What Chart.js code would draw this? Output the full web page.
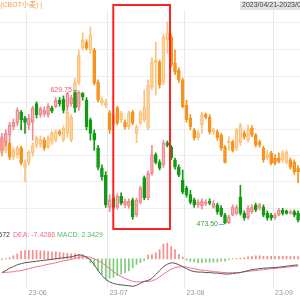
<!DOCTYPE html>
<html>
<head>
<meta charset="utf-8">
<script src="https://cdn.jsdelivr.net/npm/chart.js@4"></script>
<style>
  html, body { margin: 0; padding: 0; background: #fff; overflow: hidden; }
  #kline { position: absolute; left: 0; top: 0; width: 300px; height: 230px; }
  #macdBox { position: absolute; left: 0; top: 230px; width: 300px; height: 70px; }
</style>
</head>
<body>
<div id="kline"><canvas id="c1"></canvas></div>
<div id="macdBox"><canvas id="c2"></canvas></div>
<script>
// trading days, 2023
const dates = [
  "05-22","05-23","05-24","05-25","05-26","05-30","05-31",
  "06-01","06-02","06-05","06-06","06-07","06-08","06-09","06-12","06-13","06-14","06-15","06-16",
  "06-20","06-21","06-22","06-23","06-26","06-27","06-28","06-29","06-30",
  "07-03","07-05","07-06","07-07","07-10","07-11","07-12","07-13","07-14","07-17","07-18","07-19",
  "07-20","07-21","07-24","07-25","07-26","07-27","07-28","07-31",
  "08-01","08-02","08-03","08-04","08-07","08-08","08-09","08-10","08-11","08-14","08-15","08-16",
  "08-17","08-18","08-21","08-22","08-23","08-24","08-25","08-28","08-29","08-30","08-31",
  "09-01","09-05","09-06","09-07","09-08","09-11","09-12"
];
const tickDates = ["06-01", "07-03", "08-01", "09-01"];
const tickLabels = ["23-06", "23-07", "23-08", "23-09"];

// CBOT小麦 (red / green candles)
const mainOpen = [560,569,578,588,592,605,598,590,593,615,602,603,602,610,611,619,620,611,615,628,
  611,627,619,596,580,563,539,531,493,504,493,506,496,495,502,484,499,528,504,533,
  555,546,543,569,564,549,540,525,516,508,502,496,495,497,500,493,496,492,484,475,
  484,486,505,486,481,488,496,492,493,486,484,481,484,490,489,486,488,486];
const mainHigh = [580,584,593,597,610,607,600,602,612,617,611,611,615,612,622,622,624,628.5,625,629,
  629.75,628,622,598,584,566,543,535,508,508,509,510,503,503,504,504,518,530,536,566,
  557,549,572,571,566,551,543,537,518,513,504,502,503,502,503,501,498,495,486,484,
  496,496,519,489,495,496,498,498,496,489,486,486,492,492,490,490,490,489];
const mainLow = [555,565,572,584,589,584,580,584,572,598,599,600,599,604,610,612,604,607,612,605,
  607,619,584,572,560,537,525,493,488,491,491,496,493,492,479,482,497,502,502,531,
  544,537,540,564,549,538,529,509,505,497,493,493,491,495,496,492,485,482,473.5,474,
  483,484,484,478,479,486,488,490,482,478,478,479,483,484,485,485,482,476];
const mainClose = [576,580,590,593,607,596,593,598,610,602,609,607,612,606,619,615,607,627,622,610,
  628.5,623,588,580,572,540,529,496,502,493,506,498,500,500,482,502,516,504,533,555,
  546,539,569,566,551,540.5,531,511,508,499,496,499,500,499,498,498,488,484,475,482,
  493,493,486,481,492,493,490,496,484,481,481,484,490,486,486,488,484,478];

// compared contract (orange candles)
const cmpOpen = [557,560,569,552,555,563,540,546,557,566,567,572,564,570,572,582,572,580,572,610,
  640,680,687,678,678,640,616,613,604,590,610,596,593,588,605,580,592,596,586,634,
  663,664,640,690,693,663,654,643,613,598,584,575,590,602,599,582,582,578,564,569,
  570,563,569,580,572,586,578,570,563,551,557,551,551,549,546,549,546,539];
const cmpHigh = [576,572,572,564,565,565,549,560,569,577,577,575,577,583,584,584,589,610,602,645,
  678,698,690,705,680,643,623,620,607,605,612,606,596,606,607,590,607,631,643,669,
  687,666,696,711,696,678,657,645,619,602,586,583,605,604,602,586,584,580,566,576,
  572,586,592,583,590,589,580,572,565,560,559,555,557,560,560,551,549,542];
const cmpLow = [553,557,549,549,551,543,523,543,553,563,564,560,562,567,570,577,570,575,570,605,
  637,678,678,674,637,617,613,610,580,586,590,593,585,585,590,569,590,593,584,631,
  625,633,637,674,658,649,640,610,593,584,572,572,580,597,579,579,572,560,545,560,
  558,560,566,573,570,576,564,564,546,549,543,543,545,546,544,538,532,522];
const cmpClose = [572,569,552,560,563,545,545,558,566,575,573,563,575,580,582,579,586,605,599,640,
  672,690,680,696,639,619,619,617,584,602,592,604,588,604,592,588,604,611,637,664,
  666,637,693,698,660,652,643,611,596,588,575,580,602,599,582,584,575,563,546,571,
  560,584,589,576,585,578,566,566,549,555,545,545,547,557,558,540,535,535];

// MACD panel
const dif = [-14,-12,-9.5,-8,-6,-5,-4,-3.5,-3,-2.5,-2,-1.5,-1,-0.5,0,0.5,1,1.5,2,3,
  4,3.5,1.5,-1,-6,-12,-17,-21,-23.5,-25,-26,-26.5,-27,-27.5,-28,-27,-25,-23,-22,-20,
  -16,-12,-8,-5.5,-4,-4.5,-6,-8,-10,-12,-13,-13.5,-13.5,-14,-14,-14.5,-14.5,-15,-15.5,-15.5,
  -15,-14.5,-14,-13,-12,-11,-10.5,-10,-9.5,-9.5,-9,-9,-8.5,-8,-7.5,-7,-6.5,-6.2572];
const dea = [-14,-13.8,-13.5,-13.2,-12.5,-12,-11,-10,-9,-8,-7.5,-6.5,-5.5,-5,-4,-3,-2,-1.5,-0.5,0.5,
  1.5,2,2.2,1.5,0,-2,-4,-7,-10,-13,-16,-18,-20,-21.5,-23,-23.5,-23.5,-23,-23,-22.5,
  -21,-18.5,-15.5,-13,-10.5,-9,-8.3,-8,-8.5,-9.5,-10,-11,-11.5,-12,-12.5,-13,-13.3,-13.7,-14,-14.2,
  -14.2,-14,-13.8,-13.2,-12.8,-12.3,-12,-11.5,-11,-10.5,-10,-9.7,-9.3,-9,-8.5,-8.2,-7.8,-7.4286];
const macd = [-1,0.5,1,3,5,7.7,8.3,8.7,8.5,8.5,8,8,7.5,7,7,6.5,6,5.5,5,5,
  4.5,4,2,-4,-7,-12,-15.7,-20.7,-19.7,-19,-17,-15.7,-14,-12.3,-9,-5.7,-4,-1.7,4,4.5,
  6,9.5,15,16,12.5,9.5,4.5,1.8,-1.5,-2.5,-3.3,-4,-4,-3.5,-3.5,-3.5,-3.5,-2.5,-2.5,-1,
  -0.5,0.3,0.5,1,2,2.5,3,3,2.5,2.5,2.5,2.5,2.5,2.5,2.5,2.5,2.3,2.3429];

// horizontal grid levels of the price panel
const gridLevels = [709.7, 678.5, 647.4, 616.2, 585.1, 553.9, 522.9, 491.7];
// highlighted stretch (category positions)
const boxFrom = 28.95, boxTo = 43.7;

const FONT = '"Liberation Sans", "Noto Sans CJK SC", sans-serif';
Chart.defaults.font.family = FONT;
Chart.defaults.font.size = 7;
Chart.defaults.animation = false;

const vGrid = c => tickDates.includes(dates[c.index]) ? '#e9e9e9' : 'rgba(0,0,0,0)';

function candleSets(open, high, low, close, upColor, downColor) {
  const up = i => close[i] >= open[i];
  const col = c => up(c.dataIndex) ? upColor : downColor;
  const common = { type: 'bar', grouped: false, borderSkipped: false, backgroundColor: col, borderColor: col };
  return [
    { ...common, data: open.map((o, i) => [o, close[i]]), barThickness: 3, borderWidth: 1, minBarLength: 1,
      backgroundColor: c => up(c.dataIndex) ? 'rgba(255,255,255,0)' : downColor },
    { ...common, data: high.map((h, i) => [Math.max(open[i], close[i]), h]), barThickness: 1, borderWidth: 0 },
    { ...common, data: low.map((l, i) => [l, Math.min(open[i], close[i])]), barThickness: 1, borderWidth: 0 }
  ];
}

function mark(ctx, px, py, text, color) {
  ctx.strokeStyle = '#7aaed8';
  ctx.lineWidth = 1;
  ctx.beginPath();
  ctx.moveTo(px - 1, py + 0.5);
  ctx.lineTo(px - 6, py + 0.5);
  ctx.stroke();
  ctx.fillStyle = color;
  ctx.textAlign = 'right';
  ctx.textBaseline = 'middle';
  ctx.fillText(text, px - 7, py);
}

const overlay = {
  id: 'overlay',
  afterDatasetsDraw(chart) {
    const { ctx, scales: { x, y } } = chart;
    ctx.save();
    ctx.font = '7px ' + FONT;
    // highlighted box
    const bx1 = x.getPixelForValue(boxFrom), bx2 = x.getPixelForValue(boxTo);
    ctx.strokeStyle = '#f22';
    ctx.lineWidth = 2;
    ctx.strokeRect(bx1, 5, bx2 - bx1, 224);
    // max / min of the main contract
    const hi = Math.max(...mainHigh), lo = Math.min(...mainLow);
    const hiIdx = mainHigh.indexOf(hi), loIdx = mainLow.indexOf(lo);
    mark(ctx, x.getPixelForValue(hiIdx), y.getPixelForValue(hi) - 1, hi.toFixed(2), '#e8606e');
    mark(ctx, x.getPixelForValue(loIdx), y.getPixelForValue(lo), lo.toFixed(2), '#3a9a3a');
    // header
    ctx.textBaseline = 'middle';
    ctx.textAlign = 'right';
    ctx.fillStyle = '#f0a040';
    ctx.fillText('美麦(CBOT小麦) |', 42, 5.5);
    ctx.fillStyle = '#e2e2e2';
    ctx.fillRect(240, 1, 62, 9);
    ctx.textAlign = 'left';
    ctx.fillStyle = '#444';
    ctx.fillText('2023/04/21-2023/09/12', 242, 5.5);
    ctx.restore();
  }
};

new Chart(document.getElementById('c1'), {
  type: 'bar',
  data: {
    labels: dates,
    datasets: [
      ...candleSets(mainOpen, mainHigh, mainLow, mainClose, '#f28a92', '#139a13'),
      ...candleSets(cmpOpen, cmpHigh, cmpLow, cmpClose, '#fcc27a', '#f7931e')
    ]
  },
  options: {
    responsive: true,
    maintainAspectRatio: false,
    layout: { padding: { top: 10 } },
    plugins: { legend: { display: false }, tooltip: { enabled: false } },
    scales: {
      x: {
        offset: true,
        ticks: { display: false },
        grid: { color: vGrid, offset: true, drawTicks: false },
        border: { display: false }
      },
      y: {
        min: 466.45,
        max: 724.95,
        ticks: { display: false },
        grid: { color: '#efefef', drawTicks: false },
        border: { display: false },
        afterBuildTicks: s => { s.ticks = gridLevels.map(v => ({ value: v })); }
      }
    }
  },
  plugins: [overlay]
});

const macdLegend = {
  id: 'macdLegend',
  afterDraw(chart) {
    const ctx = chart.ctx;
    const n = dif.length - 1;
    ctx.save();
    ctx.font = '7px ' + FONT;
    ctx.textBaseline = 'middle';
    ctx.textAlign = 'right';
    ctx.fillStyle = '#333';
    ctx.fillText('DIF: ' + dif[n].toFixed(4), 10, 5);
    ctx.textAlign = 'left';
    ctx.fillStyle = '#ee6a80';
    ctx.fillText('DEA: ' + dea[n].toFixed(4), 13, 5);
    ctx.fillStyle = '#5dbb5d';
    ctx.fillText('MACD: ' + macd[n].toFixed(4), 57, 5);
    ctx.restore();
  }
};

new Chart(document.getElementById('c2'), {
  type: 'bar',
  data: {
    labels: dates,
    datasets: [
      { type: 'line', data: dif, borderColor: '#555', borderWidth: 1, pointRadius: 0 },
      { type: 'line', data: dea, borderColor: '#f0728a', borderWidth: 1, pointRadius: 0 },
      { type: 'bar', data: macd, barThickness: 1,
        backgroundColor: c => macd[c.dataIndex] >= 0 ? '#f78a8a' : '#7ccc7c' }
    ]
  },
  options: {
    responsive: true,
    maintainAspectRatio: false,
    layout: { padding: { bottom: 2 } },
    plugins: { legend: { display: false }, tooltip: { enabled: false } },
    scales: {
      x: {
        offset: true,
        grid: { color: vGrid, offset: true, drawTicks: false },
        border: { display: false },
        ticks: {
          autoSkip: false,
          maxRotation: 0,
          align: 'start',
          padding: 1,
          color: '#999',
          callback: (v, i) => {
            const k = tickDates.indexOf(dates[i]);
            return k >= 0 ? tickLabels[k] : '';
          }
        }
      },
      y: { display: false, min: -29.3, max: 29.3 }
    }
  },
  plugins: [macdLegend]
});
</script>
</body>
</html>
